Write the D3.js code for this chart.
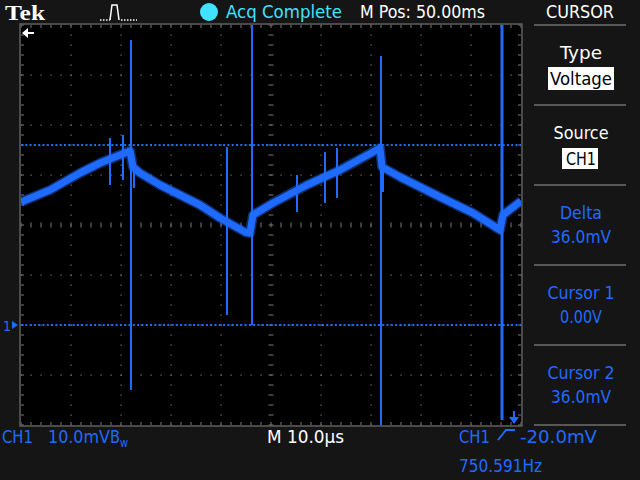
<!DOCTYPE html>
<html>
<head>
<meta charset="utf-8">
<script src="https://cdn.jsdelivr.net/npm/d3@7"></script>
<style>
  html, body { margin: 0; padding: 0; background: #151515; }
  svg { display: block; }
  text { font-family: "DejaVu Sans Condensed", "DejaVu Sans", sans-serif; }
</style>
</head>
<body>
<svg id="scope" width="640" height="480"></svg>
<script>
// trace: time in us, level in mV (ground = 0)
const traceT = [0, 5.8, 11.8, 15.8, 19.8, 21.8, 22.4, 23.8, 27.8, 31.8, 35.8, 39.8, 44.8, 45.8,
                46.4, 50.4, 57.2, 63.8, 70.4, 71.8, 72.2, 75.8, 83.8, 90.4, 95.8, 96.4, 100];
const traceV = [24.6, 27, 30.4, 32.4, 34, 34.8, 31.6, 30.4, 28, 26, 24, 21.4, 18.6, 18.4,
                22, 24.4, 28, 31, 34.6, 35.4, 31.6, 29.6, 25.6, 22.4, 19, 22, 24.8];

// glitches on the trace
const spikeT  = [17.8, 20.4, 22, 22.6, 41.2, 46.2, 55.2, 60.8, 63.2, 72, 72.4, 96.2];
const spikeHi = [37.4, 38, 57, 31, 35.6, 60, 30, 34.6, 35.4, 53.8, 31, 60];
const spikeLo = [28, 29, -13, 27.4, 2, 0, 22.6, 24.4, 25.4, -20, 26.6, -19];

const cursorLevels = [0, 36];

const panelLabels = ["Type", "Source", "Delta", "Cursor 1", "Cursor 2"];
const panelValues = ["Voltage", "CH1", "36.0mV", "0.00V", "36.0mV"];

const blue = "#1f6bff";
const svg = d3.select("#scope");

const x = d3.scaleLinear().domain([0, 100]).range([21, 521]);
const y = d3.scaleLinear().domain([-20, 60]).range([425, 25]);

// graticule background
svg.append("rect").attr("x", 21).attr("y", 25).attr("width", 500).attr("height", 400).attr("fill", "#000");

svg.append("clipPath").attr("id", "clip")
  .append("rect").attr("x", 21).attr("y", 25).attr("width", 500).attr("height", 400);

const grid = svg.append("g").attr("fill", "#7a7a7a");
const majX = d3.range(0, 101, 10), majY = d3.range(-20, 61, 10);
const minX = d3.range(0, 100.1, 2), minY = d3.range(-20, 60.1, 2);

// dotted major lines
majX.filter(d => d > 0 && d < 100 && d !== 50).forEach(t => {
  grid.selectAll(null).data(minY).enter().append("rect")
    .attr("x", x(t) - 0.5).attr("y", d => y(d) - 0.5).attr("width", 1.2).attr("height", 1.2);
});
majY.filter(d => d > -20 && d < 60 && d !== 20).forEach(v => {
  grid.selectAll(null).data(minX).enter().append("rect")
    .attr("x", d => x(d) - 0.5).attr("y", y(v) - 0.5).attr("width", 1.2).attr("height", 1.2);
});
// centre cross with ticks
grid.selectAll(null).data(minX).enter().append("rect")
  .attr("x", d => x(d) - 0.5).attr("y", y(20) - 2.5).attr("width", 1).attr("height", 5);
grid.selectAll(null).data(minY).enter().append("rect")
  .attr("x", x(50) - 2.5).attr("y", d => y(d) - 0.5).attr("width", 5).attr("height", 1);
// frame ticks
grid.selectAll(null).data(minX).enter().append("rect")
  .attr("x", d => x(d) - 0.5).attr("y", 25).attr("width", 1).attr("height", 3);
grid.selectAll(null).data(minX).enter().append("rect")
  .attr("x", d => x(d) - 0.5).attr("y", 422).attr("width", 1).attr("height", 3);
grid.selectAll(null).data(minY).enter().append("rect")
  .attr("x", 21).attr("y", d => y(d) - 0.5).attr("width", 3).attr("height", 1);
grid.selectAll(null).data(minY).enter().append("rect")
  .attr("x", 518).attr("y", d => y(d) - 0.5).attr("width", 3).attr("height", 1);

svg.append("rect").attr("x", 20).attr("y", 24).attr("width", 502).attr("height", 402)
  .attr("fill", "none").attr("stroke", "#5c5c5c").attr("stroke-width", 1.5);

const plot = svg.append("g").attr("clip-path", "url(#clip)");

// cursors
plot.selectAll(".cursor").data(cursorLevels).enter().append("line")
  .attr("x1", 21).attr("x2", 521).attr("y1", d => y(d)).attr("y2", d => y(d))
  .attr("stroke", blue).attr("stroke-width", 2).attr("stroke-dasharray", "2,2.3");

// trace
const pts = traceT.map((t, i) => [t, traceV[i]]);
const line = d3.line().x(d => x(d[0])).y(d => y(d[1]));
plot.append("path").attr("d", line(pts)).attr("fill", "none")
  .attr("stroke", blue).attr("stroke-opacity", 0.45).attr("stroke-width", 10).attr("stroke-linejoin", "round");
plot.append("path").attr("d", line(pts)).attr("fill", "none")
  .attr("stroke", blue).attr("stroke-width", 7).attr("stroke-linejoin", "round");

plot.selectAll(".spike").data(spikeT).enter().append("line")
  .attr("x1", d => x(d)).attr("x2", d => x(d))
  .attr("y1", (d, i) => y(spikeHi[i])).attr("y2", (d, i) => y(spikeLo[i]))
  .attr("stroke", blue).attr("stroke-width", (d, i) => i === spikeT.length - 1 ? 3 : 2);

// markers
svg.append("text").attr("x", 3).attr("y", 331).attr("fill", blue).attr("font-size", 14).text("1");
svg.append("path").attr("d", "M12,321 L18,325 L12,329 Z").attr("fill", blue);
svg.append("path").attr("d", "M22,33 L28,28 L28,38 Z M28,32 H34 V34 H28 Z").attr("fill", "#fff");
svg.append("path").attr("d", "M513,411 H515 V418 H513 Z M509,417 H519 L514,424 Z").attr("fill", blue);

// status bar
svg.append("text").attr("x", 5).attr("y", 20).attr("fill", "#fff")
  .style("font-family", "'Liberation Serif', 'DejaVu Serif', serif").style("font-weight", "bold")
  .attr("font-size", 22)
  .attr("textLength", 40).attr("lengthAdjust", "spacingAndGlyphs").text("Tek");
svg.append("path").attr("d", "M110,20 L112,5 L117,5 L119,20").attr("fill", "none").attr("stroke", "#fff").attr("stroke-width", 1.5);
svg.append("path").attr("d", "M100,20 H110 M121,20 H137").attr("stroke", "#fff").attr("stroke-width", 1.5).attr("stroke-dasharray", "1.5,1.5");
svg.append("circle").attr("cx", 209).attr("cy", 12).attr("r", 9).attr("fill", "#3fe3ff");

function label(txt, xx, yy, w, col, anchor, size) {
  return svg.append("text").attr("x", xx).attr("y", yy).attr("fill", col)
    .attr("font-size", size || 17).attr("text-anchor", anchor || "start")
    .attr("textLength", w).attr("lengthAdjust", "spacingAndGlyphs").text(txt);
}
label("Acq Complete", 226, 18, 116, "#3fe3ff");
label("M Pos: 50.00ms", 360, 18, 125, "#fff");
label("CURSOR", 546, 18, 68, "#fff");

// side panel
const cellTop = [25, 105, 185, 265, 345];
svg.selectAll(".sep").data(cellTop.concat([425])).enter().append("line")
  .attr("x1", 534).attr("x2", 626).attr("y1", d => d).attr("y2", d => d)
  .attr("stroke", "#575757").attr("stroke-width", 2);
const labW = [42, 55, 42, 67, 67], valW = [62, 30, 60, 42, 60];
panelLabels.forEach((s, i) => {
  label(s, 581, cellTop[i] + 34, labW[i], i < 2 ? "#fff" : blue, "middle");
});
svg.append("rect").attr("x", 548).attr("y", 67).attr("width", 66).attr("height", 23).attr("fill", "#fff");
svg.append("rect").attr("x", 562).attr("y", 148).attr("width", 36).attr("height", 21).attr("fill", "#fff");
panelValues.forEach((s, i) => {
  label(s, 581, cellTop[i] + (i < 2 ? 60 : 58), valW[i], i < 2 ? "#000" : blue, "middle");
});

// bottom readout
label("CH1", 2, 443, 31, blue);
label("10.0mV", 48, 443, 62, blue);
label("B", 110, 443, 10, blue);
label("w", 120, 447, 8, blue, "start", 13);
label("M 10.0\u00b5s", 267, 443, 77, "#fff");
label("CH1", 459, 443, 31, blue);
svg.append("path").attr("d", "M498,440 L506,430 H515").attr("fill", "none").attr("stroke", blue).attr("stroke-width", 2);
label("-20.0mV", 520, 443, 77, blue);
label("750.591Hz", 459, 472, 83, blue);
</script>
</body>
</html>
